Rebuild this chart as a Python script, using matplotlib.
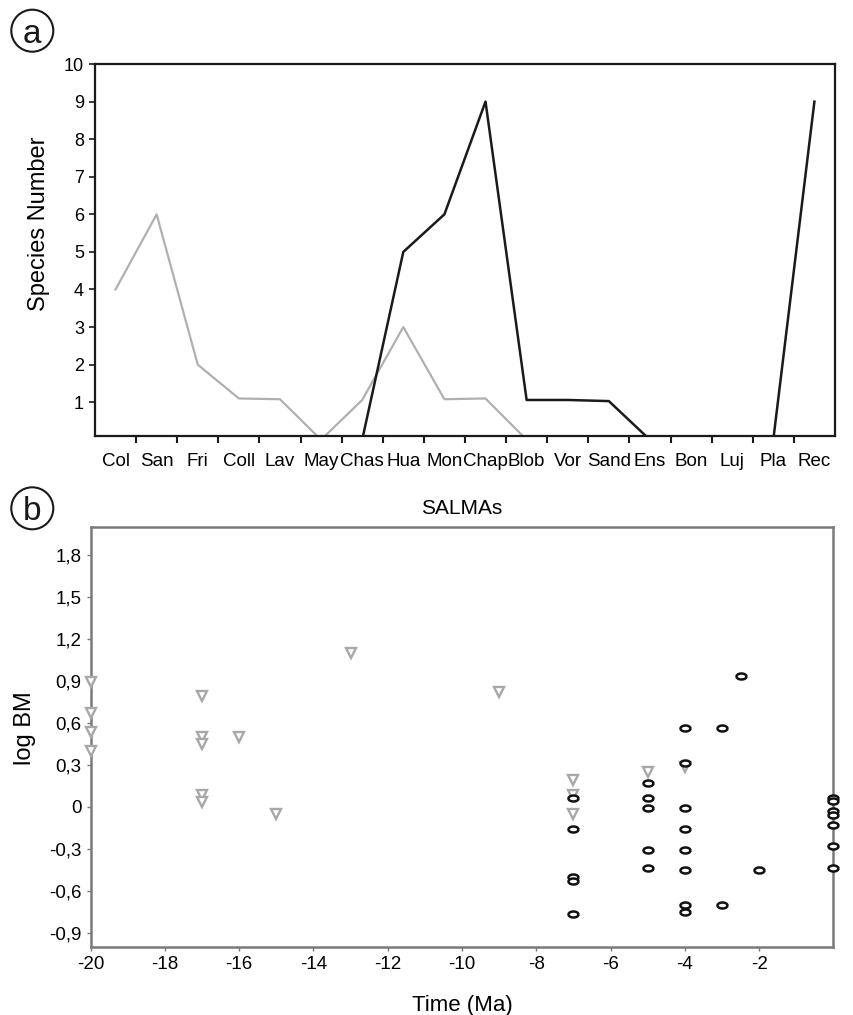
import matplotlib
matplotlib.use("Agg")
import matplotlib.pyplot as plt
from matplotlib.patches import Ellipse
from matplotlib.path import Path
from matplotlib.ticker import FuncFormatter
import numpy as np

plt.rcParams['font.family'] = ['Liberation Sans', 'DejaVu Sans']

# (a) species number per SALMA
salmas = ['Col', 'San', 'Fri', 'Coll', 'Lav', 'May', 'Chas', 'Hua', 'Mon',
          'Chap', 'Blob', 'Vor', 'Sand', 'Ens', 'Bon', 'Luj', 'Pla', 'Rec']
nan = np.nan
gray_species = [4, 6, 2, 1.1, 1.08, 0, 1.06, 3, 1.08, 1.1, 0,
                nan, nan, nan, nan, nan, nan, nan]
black_species = [nan, nan, nan, nan, nan, nan, 0, 5, 6, 9, 1.06,
                 1.06, 1.03, 0, 0, 0, 0, 9]

# (b) log body mass through time
tri_time = [-20, -20, -20, -20, -17, -17, -17, -17, -17, -16, -15, -13, -9,
            -7, -7, -7, -5, -4]
tri_logbm = [0.89, 0.67, 0.53, 0.40, 0.79, 0.50, 0.45, 0.08, 0.03, 0.50, -0.05,
             1.10, 0.82, 0.19, 0.08, -0.05, 0.25, 0.28]
circ_time = [-7, -7, -7, -7, -7,
             -5, -5, -5, -5, -5,
             -4, -4, -4, -4, -4, -4, -4, -4,
             -3, -3, -2.5, -2,
             0, 0, 0, 0, 0, 0, 0]
circ_logbm = [0.06, -0.16, -0.50, -0.53, -0.77,
              0.17, 0.06, -0.01, -0.31, -0.44,
              0.56, 0.31, -0.01, -0.16, -0.31, -0.45, -0.70, -0.75,
              0.56, -0.70, 0.93, -0.45,
              0.06, 0.04, -0.03, -0.06, -0.13, -0.28, -0.44]
time_ticks = list(range(-20, 0, 2))
logbm_ticks = [-0.9, -0.6, -0.3, 0, 0.3, 0.6, 0.9, 1.2, 1.5, 1.8]

dark = '#1a1a1a'
light = '#b0b0b0'
frame_gray = '#7a7a7a'

fig = plt.figure(figsize=(8.54, 10.15), dpi=100)

# ---- panel a ----
ax1 = fig.add_axes([0.1112, 0.5704, 0.8665, 0.3665])
x = np.arange(len(salmas))
ax1.plot(x, gray_species, color=light, lw=1.6)
ax1.plot(x, black_species, color=dark, lw=1.8)
ax1.set_xlim(-0.5, len(salmas) - 0.5)
ax1.set_ylim(0.1, 10)
ax1.set_xticks(x[:-1] + 0.5)
ax1.set_xticks(x, minor=True)
ax1.set_xticklabels(salmas, minor=True)
ax1.tick_params(axis='x', which='major', length=5, width=1.5, color=dark,
                labelbottom=False)
ax1.tick_params(axis='x', which='minor', length=0, pad=12, labelsize=13.5)
ax1.set_yticks(range(1, 11))
ax1.tick_params(axis='y', length=4, width=1.2, color=dark, labelsize=13, pad=4)
for s in ax1.spines.values():
    s.set_linewidth(1.6)
    s.set_color(dark)
ax1.set_ylabel('Species Number', fontsize=17)
ax1.yaxis.set_label_coords(-0.061, 0.57)

# ---- panel b ----
ax2 = fig.add_axes([0.1062, 0.0673, 0.8696, 0.4138])
ell = np.linspace(0, 2 * np.pi, 40)
ellipse_marker = Path(np.column_stack([np.cos(ell), 0.6 * np.sin(ell)]))
ax2.plot(tri_time, tri_logbm, ls='none', marker='v', ms=7.5, mfc='white',
         mec='#a8a8a8', mew=1.7, clip_on=False, zorder=3)
ax2.plot(circ_time, circ_logbm, ls='none', marker=ellipse_marker, ms=7.2,
         mfc='white', mec='#111111', mew=1.8, clip_on=False, zorder=4)
ax2.set_xlim(-20, 0)
ax2.set_ylim(-1, 2)
ax2.set_xticks(time_ticks)
ax2.set_xticklabels([str(t) for t in time_ticks])
ax2.set_yticks(logbm_ticks)
ax2.yaxis.set_major_formatter(FuncFormatter(
    lambda v, p: '0' if abs(v) < 1e-9 else f'{v:.1f}'.replace('.', ',')))
ax2.tick_params(axis='both', length=3, width=1, color=frame_gray, labelsize=13.5)
for s in ax2.spines.values():
    s.set_linewidth(1.8)
    s.set_color(frame_gray)
ax2.set_title('SALMAs', fontsize=15, pad=9)
ax2.set_ylabel('log BM', fontsize=17)
ax2.yaxis.set_label_coords(-0.074, 0.52)
ax2.set_xlabel('Time (Ma)', fontsize=16)
ax2.xaxis.set_label_coords(0.5, -0.115)

# circled panel letters
for letter, cx, cy in [('a', 32.3, 30.7), ('b', 32.3, 508.3)]:
    fig.add_artist(Ellipse((cx / 854, 1 - cy / 1015), 42 / 854, 42 / 1015,
                           transform=fig.transFigure, fill=False, lw=1.5,
                           ec=dark))
    fig.text(cx / 854, 1 - cy / 1015, letter, fontsize=24, ha='center',
             va='center_baseline', color=dark)

fig.savefig('out.png', dpi=100)
